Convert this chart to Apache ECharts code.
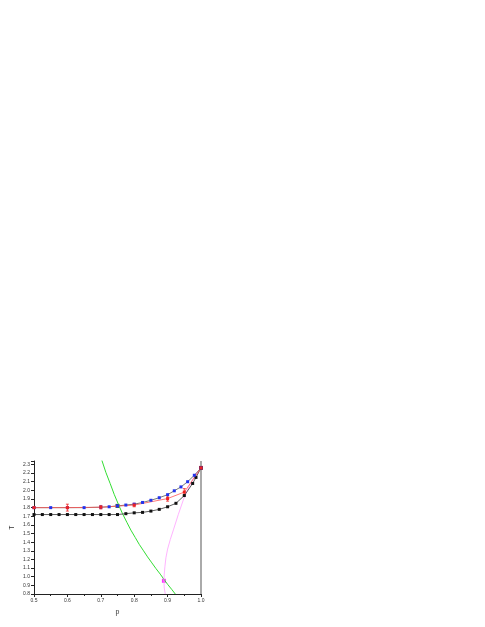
<!DOCTYPE html>
<html><head><meta charset="utf-8">
<script src="https://cdn.jsdelivr.net/npm/echarts@6/dist/echarts.min.js"></script>
<style>html,body{margin:0;padding:0;background:#fff}#c{width:485px;height:627px}</style>
</head><body><div id="c"></div>
<script>
// Data
const blackP = [0.5,0.525,0.55,0.575,0.6,0.625,0.65,0.675,0.7,0.725,0.75,0.775,0.8,0.825,0.85,0.875,0.9,0.925,0.95,0.975,0.985,1.0];
const blackT = [1.72,1.72,1.72,1.72,1.72,1.72,1.72,1.72,1.72,1.72,1.72,1.73,1.74,1.745,1.76,1.78,1.81,1.85,1.94,2.08,2.15,2.26];
const blueP = [0.5,0.55,0.6,0.65,0.7,0.725,0.75,0.775,0.8,0.825,0.85,0.875,0.9,0.92,0.94,0.96,0.98,1.0];
const blueT = [1.80,1.80,1.80,1.80,1.805,1.81,1.82,1.83,1.84,1.86,1.885,1.915,1.95,1.995,2.04,2.10,2.175,2.26];
const redP = [0.5,0.6,0.7,0.8,0.9,0.95,1.0];
const redT = [1.80,1.80,1.805,1.83,1.905,1.98,2.26];
const redErr = [0.01,0.04,0.02,0.02,0.03,0.04,0.01];
const greenP = [0.703,0.715,0.728,0.740,0.753,0.765,0.778,0.790,0.803,0.815,0.828,0.840,0.853,0.865,0.878,0.889,0.900,0.912,0.923];
const greenT = [2.35,2.21,2.08,1.955,1.835,1.73,1.63,1.54,1.455,1.375,1.30,1.23,1.16,1.095,1.03,0.97,0.912,0.855,0.80];
const pinkP = [0.893,0.890,0.889,0.890,0.892,0.895,0.900,0.908,0.918,0.932,0.948,0.965,0.98,1.0];
const pinkT = [0.80,0.87,0.95,1.03,1.12,1.22,1.32,1.43,1.55,1.72,1.90,2.05,2.16,2.26];
const crossBlack = [[0.75,1.82]];
const crossPink = [[0.889,0.953]];
const endRed = [[1.0,2.26]];
const edgeLine = [[1.0,0.8],[1.0,2.34]];
const xTicks = ['0.5','0.6','0.7','0.8','0.9','1.0'];

const zip = (a,b)=>a.map((v,i)=>[v,b[i]]);
const font = 'Liberation Sans';
const chart = echarts.init(document.getElementById('c'));
chart.setOption({
  animation:false,
  backgroundColor:'#fff',
  grid:{left:34,right:284,top:461,bottom:33},
  xAxis:{type:'value',min:0.5,max:1.0,interval:0.1,
    name:'p',nameLocation:'middle',nameGap:15,nameTextStyle:{fontSize:7,color:'#333',fontFamily:font},
    axisLine:{lineStyle:{color:'#222',width:1}},
    axisTick:{show:true,length:3,lineStyle:{color:'#222'}},
    minorTick:{show:true,splitNumber:2,length:2,lineStyle:{color:'#222'}},
    axisLabel:{fontSize:5,color:'#333',fontFamily:font,margin:4,
      formatter:v=>{const s=v.toFixed(1);return xTicks.includes(s)?s:'';}},
    splitLine:{show:false}},
  yAxis:{type:'value',min:0.8,max:2.34,interval:0.1,
    name:'T',nameLocation:'middle',nameGap:18,nameTextStyle:{fontSize:7,color:'#333',fontFamily:font},
    axisLine:{show:true,lineStyle:{color:'#222',width:1}},
    axisTick:{show:true,length:3,lineStyle:{color:'#222'}},
    axisLabel:{fontSize:5,color:'#333',fontFamily:font,margin:4,
      formatter:v=>Math.abs(v*10-Math.round(v*10))<1e-6?v.toFixed(1):''},
    splitLine:{show:false}},
  series:[
    {type:'line',data:edgeLine,symbol:'none',lineStyle:{color:'#aaa',width:2},z:1},
    {type:'line',data:zip(greenP,greenT),symbol:'none',lineStyle:{color:'#33dd33',width:1}},
    {type:'line',data:zip(pinkP,pinkT),symbol:'none',lineStyle:{color:'#ffa0ff',width:0.8}},
    {type:'line',data:zip(blackP,blackT),symbol:'rect',symbolSize:3,itemStyle:{color:'#111'},lineStyle:{color:'#333',width:0.8}},
    {type:'line',data:zip(blueP,blueT),symbol:'rect',symbolSize:3,itemStyle:{color:'#2233ee'},lineStyle:{color:'#555',width:0.8}},
    {type:'line',data:zip(redP,redT),symbol:'rect',symbolSize:3,itemStyle:{color:'#ee2222'},lineStyle:{color:'#ff5555',width:0.8}},
    {type:'custom',data:redP.map((p,i)=>[p,redT[i]-redErr[i],redT[i]+redErr[i]]),
      renderItem:(params,api)=>{
        const lo=api.coord([api.value(0),api.value(1)]);
        const hi=api.coord([api.value(0),api.value(2)]);
        const st={stroke:'#ee2222',lineWidth:0.8};
        return {type:'group',children:[
          {type:'line',shape:{x1:lo[0],y1:lo[1],x2:hi[0],y2:hi[1]},style:st},
          {type:'line',shape:{x1:lo[0]-1.5,y1:lo[1],x2:lo[0]+1.5,y2:lo[1]},style:st},
          {type:'line',shape:{x1:hi[0]-1.5,y1:hi[1],x2:hi[0]+1.5,y2:hi[1]},style:st}]};
      }},
    {type:'scatter',data:crossBlack,symbol:'rect',symbolSize:4,itemStyle:{color:'#111'}},
    {type:'scatter',data:crossPink,symbol:'rect',symbolSize:4,itemStyle:{color:'#ff00ff'}},
    {type:'scatter',data:endRed,symbol:'rect',symbolSize:4,itemStyle:{color:'#aa1111'}}
  ]
});
</script></body></html>
